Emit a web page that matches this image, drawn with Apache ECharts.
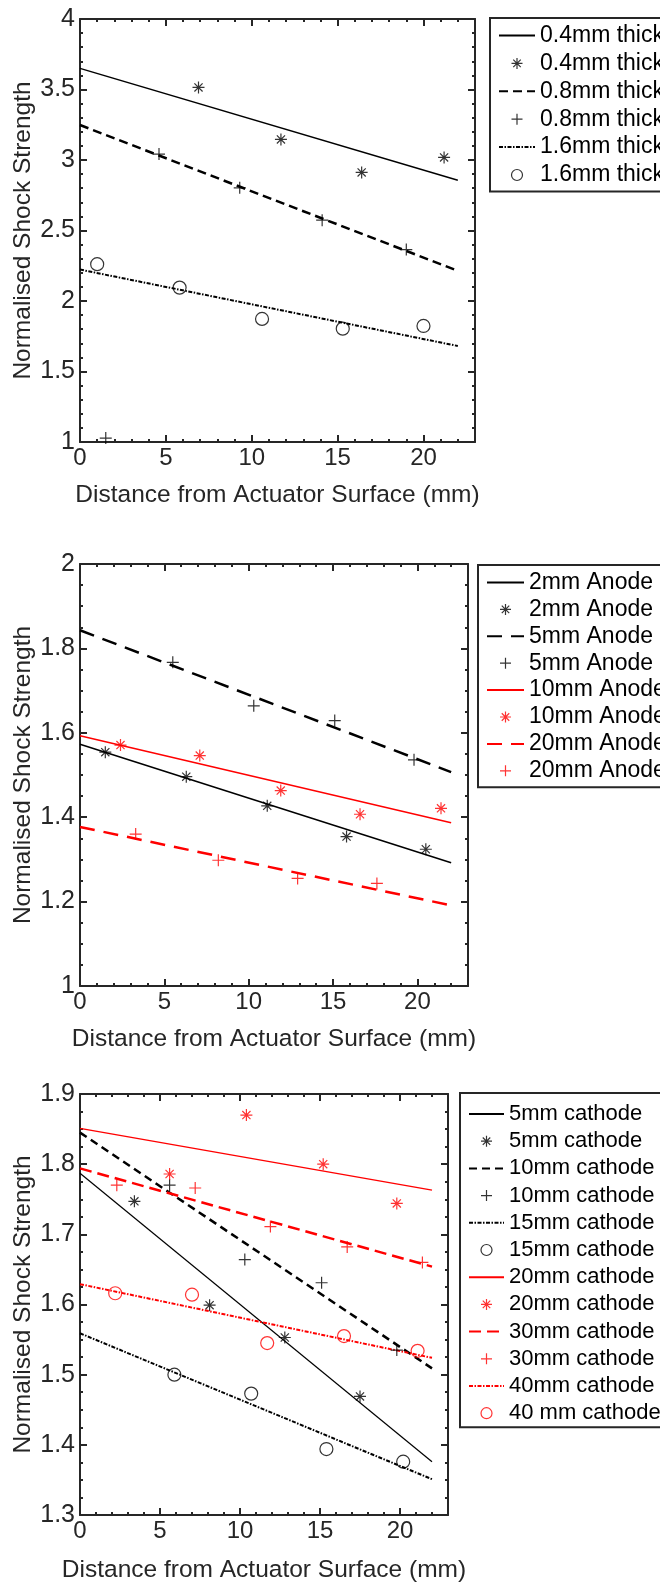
<!DOCTYPE html>
<html>
<head>
<meta charset="utf-8">
<script src="https://cdn.jsdelivr.net/npm/echarts@6/dist/echarts.min.js"></script>
<style>
  html, body { margin: 0; padding: 0; background: #fff; }
  #main { width: 660px; height: 1582px; }
</style>
</head>
<body>
<div id="main"></div>
<script>
// fitted lines all run from x = 0 to x = 22 mm
var fitX = [0, 22];

// --- panel 1: electrode thickness
var thick04X = [6.9, 11.7, 16.4, 21.2];
var thick04Y = [3.515, 3.146, 2.912, 3.018];
var thick04Fit = [3.65, 2.857];
var thick08X = [1.5, 4.6, 9.3, 14.1, 19.0];
var thick08Y = [1.028, 3.042, 2.803, 2.573, 2.365];
var thick08Fit = [3.248, 2.214];
var thick16X = [1.0, 5.8, 10.6, 15.3, 20.0];
var thick16Y = [2.261, 2.095, 1.873, 1.804, 1.823];
var thick16Fit = [2.223, 1.681];

// --- panel 2: anode length
var anode2X = [1.5, 6.3, 11.1, 15.8, 20.5];
var anode2Y = [1.554, 1.496, 1.427, 1.354, 1.324];
var anode2Fit = [1.573, 1.292];
var anode5X = [5.5, 10.3, 15.1, 19.8];
var anode5Y = [1.767, 1.664, 1.629, 1.536];
var anode5Fit = [1.843, 1.507];
var anode10X = [2.4, 7.1, 11.9, 16.6, 21.4];
var anode10Y = [1.571, 1.546, 1.463, 1.407, 1.421];
var anode10Fit = [1.593, 1.387];
var anode20X = [3.3, 8.2, 12.9, 17.6];
var anode20Y = [1.360, 1.298, 1.255, 1.243];
var anode20Fit = [1.377, 1.191];

// --- panel 3: cathode length
var cath5X = [3.4, 8.1, 12.8, 17.5];
var cath5Y = [1.747, 1.599, 1.553, 1.469];
var cath5Fit = [1.787, 1.376];
var cath10X = [5.6, 10.3, 15.1, 19.8];
var cath10Y = [1.770, 1.664, 1.631, 1.535];
var cath10Fit = [1.845, 1.509];
var cath15X = [5.9, 10.7, 15.4, 20.2];
var cath15Y = [1.500, 1.473, 1.394, 1.376];
var cath15Fit = [1.559, 1.351];
var cath20X = [5.6, 10.4, 15.2, 19.8];
var cath20Y = [1.786, 1.870, 1.800, 1.744];
var cath20Fit = [1.851, 1.763];
var cath30X = [2.3, 7.2, 11.9, 16.7, 21.4];
var cath30Y = [1.770, 1.766, 1.711, 1.682, 1.660];
var cath30Fit = [1.794, 1.654];
var cath40X = [2.2, 7.0, 11.7, 16.5, 21.1];
var cath40Y = [1.616, 1.614, 1.545, 1.555, 1.534];
var cath40Fit = [1.629, 1.524];

var xTitle = 'Distance from Actuator Surface (mm)';
var yTitle = 'Normalised Shock Strength';

var FONT = '"Liberation Sans", Arial, sans-serif';
var INK = '#262626';
var RED = '#ff0000';
var STAR = 'path://M5,0L5,10M0,5L10,5M1.6,1.6L8.4,8.4M8.4,1.6L1.6,8.4';
var PLUS = 'path://M5,0L5,10M0,5L10,5';

var panels = [
	{
		grid: { left: 80, top: 19, width: 395, height: 423 },
		y: { min: 1, max: 4, interval: 0.5, minor: 0.1 },
		nameGap: 41,
		legend: { left: 490, top: 18, padding: [6, 8, 5, 8], itemWidth: 36, itemGap: 4.9, fontSize: 23 },
		sets: [
			{ name: '0.4mm thick', color: '#000', line: 'solid', width: 1.5, marker: STAR, size: 12, x: thick04X, y: thick04Y, fit: thick04Fit },
			{ name: '0.8mm thick', color: '#000', line: [9, 5], width: 2.5, marker: PLUS, size: 12, x: thick08X, y: thick08Y, fit: thick08Fit },
			{ name: '1.6mm thick', color: '#000', line: [4, 1.5, 1.5, 1.5], width: 2, marker: 'circle', size: 13, x: thick16X, y: thick16Y, fit: thick16Fit }
		]
	},
	{
		grid: { left: 80, top: 564, width: 388, height: 422 },
		y: { min: 1, max: 2, interval: 0.2, minor: 0.05 },
		nameGap: 41,
		legend: { left: 478, top: 565, padding: [6, 8, 5, 8], itemWidth: 37, itemGap: 3.9, fontSize: 23 },
		sets: [
			{ name: '2mm Anode', color: '#000', line: 'solid', width: 1.5, marker: STAR, size: 12, x: anode2X, y: anode2Y, fit: anode2Fit },
			{ name: '5mm Anode', color: '#000', line: [15, 9], width: 2.5, marker: PLUS, size: 12, x: anode5X, y: anode5Y, fit: anode5Fit },
			{ name: '10mm Anode', color: RED, line: 'solid', width: 1.5, marker: STAR, size: 12, x: anode10X, y: anode10Y, fit: anode10Fit },
			{ name: '20mm Anode', color: RED, line: [15, 9], width: 2.5, marker: PLUS, size: 12, x: anode20X, y: anode20Y, fit: anode20Fit }
		]
	},
	{
		grid: { left: 80, top: 1094, width: 368, height: 421 },
		y: { min: 1.3, max: 1.9, interval: 0.1, minor: 0.025 },
		nameGap: 43,
		legend: { left: 460, top: 1093, padding: [10, 8, 3, 8], itemWidth: 35, itemGap: 5.2, fontSize: 22 },
		sets: [
			{ name: '5mm cathode', color: '#000', line: 'solid', width: 1.2, marker: STAR, size: 12, x: cath5X, y: cath5Y, fit: cath5Fit },
			{ name: '10mm cathode', color: '#000', line: [8, 5], width: 2.5, marker: PLUS, size: 12, x: cath10X, y: cath10Y, fit: cath10Fit },
			{ name: '15mm cathode', color: '#000', line: [4, 1.5, 1.5, 1.5], width: 2, marker: 'circle', size: 13, x: cath15X, y: cath15Y, fit: cath15Fit },
			{ name: '20mm cathode', color: RED, line: 'solid', width: 1.5, marker: STAR, size: 12, x: cath20X, y: cath20Y, fit: cath20Fit },
			{ name: '30mm cathode', color: RED, line: [12, 6], width: 2.5, marker: PLUS, size: 12, x: cath30X, y: cath30Y, fit: cath30Fit },
			{ name: '40mm cathode', color: RED, line: [4, 1.5, 1.5, 1.5], width: 2, marker: 'circle', size: 13, x: cath40X, y: cath40Y, fit: cath40Fit, label: '40 mm cathode' }
		]
	}
];

var option = {
	animation: false,
	backgroundColor: '#fff',
	grid: [], xAxis: [], yAxis: [], legend: [], series: []
};

function tickAxis(gi, position, range, major, extra) {
	var ax = {
		gridIndex: gi,
		type: 'value',
		position: position,
		min: range.min,
		max: range.max,
		interval: major ? range.interval : range.minor,
		axisLine: { show: major, onZero: false, lineStyle: { color: INK, width: 2 } },
		axisTick: { show: true, inside: true, length: major ? 7 : 3, lineStyle: { color: INK, width: 2 } },
		axisLabel: { show: false },
		splitLine: { show: false }
	};
	return Object.assign(ax, extra || {});
}

panels.forEach(function (p, gi) {
	// fixed plot boxes: do not let v6 shrink them to keep titles inside
	option.grid.push(Object.assign({ containLabel: false, outerBoundsMode: 'none' }, p.grid));
	var xr = { min: 0, max: 23, interval: 5, minor: 1 };
	var base = option.xAxis.length;
	option.xAxis.push(tickAxis(gi, 'bottom', xr, true, {
		axisLabel: { show: true, fontSize: 24, color: INK, fontFamily: FONT, showMaxLabel: false, margin: 4 },
		name: xTitle, nameLocation: 'middle', nameGap: p.nameGap, nameMoveOverlap: false,
		nameTextStyle: { fontSize: 24.5, color: INK, fontFamily: FONT }
	}));
	option.xAxis.push(tickAxis(gi, 'top', xr, true));
	option.xAxis.push(tickAxis(gi, 'bottom', xr, false));
	option.xAxis.push(tickAxis(gi, 'top', xr, false));

	var ybase = option.yAxis.length;
	option.yAxis.push(tickAxis(gi, 'left', p.y, true, {
		axisLabel: { show: true, fontSize: 25, color: INK, fontFamily: FONT, margin: 5 },
		name: yTitle, nameLocation: 'middle', nameGap: 44, nameMoveOverlap: false,
		nameTextStyle: { fontSize: 24.5, color: INK, fontFamily: FONT }
	}));
	option.yAxis.push(tickAxis(gi, 'right', p.y, true));
	option.yAxis.push(tickAxis(gi, 'left', p.y, false));
	option.yAxis.push(tickAxis(gi, 'right', p.y, false));

	var names = [];
	p.sets.forEach(function (s) {
		var label = s.label || s.name;
		option.series.push({
			type: 'line', name: s.name,
			xAxisIndex: base, yAxisIndex: ybase,
			data: fitX.map(function (x, i) { return [x, s.fit[i]]; }),
			symbol: 'none',
			lineStyle: { color: s.color, width: s.width, type: s.line },
			// keep the legend entry a bare line
			itemStyle: { color: 'transparent', borderColor: 'transparent' },
			z: 2
		});
		option.series.push({
			type: 'scatter', name: 'pts ' + label,
			xAxisIndex: base, yAxisIndex: ybase,
			data: s.x.map(function (x, i) { return [x, s.y[i]]; }),
			symbol: s.marker, symbolSize: s.size, symbolKeepAspect: true,
			itemStyle: { color: 'transparent', borderColor: s.color, borderWidth: 1.2 },
			z: 3
		});
		names.push(s.name, 'pts ' + label);
	});

	option.legend.push({
		orient: 'vertical',
		left: p.legend.left, top: p.legend.top,
		padding: p.legend.padding,
		itemWidth: p.legend.itemWidth, itemHeight: 11, itemGap: p.legend.itemGap,
		borderColor: INK, borderWidth: 2,
		backgroundColor: '#fff',
		selectedMode: false,
		itemStyle: { borderWidth: 1.2 },
		textStyle: { fontSize: p.legend.fontSize, lineHeight: 22, color: '#000', fontFamily: FONT },
		formatter: function (n) { return n.replace(/^pts /, ''); },
		data: names
	});
});

var myChart = echarts.init(document.getElementById('main'), null, { renderer: 'canvas' });
myChart.setOption(option);
</script>
</body>
</html>
